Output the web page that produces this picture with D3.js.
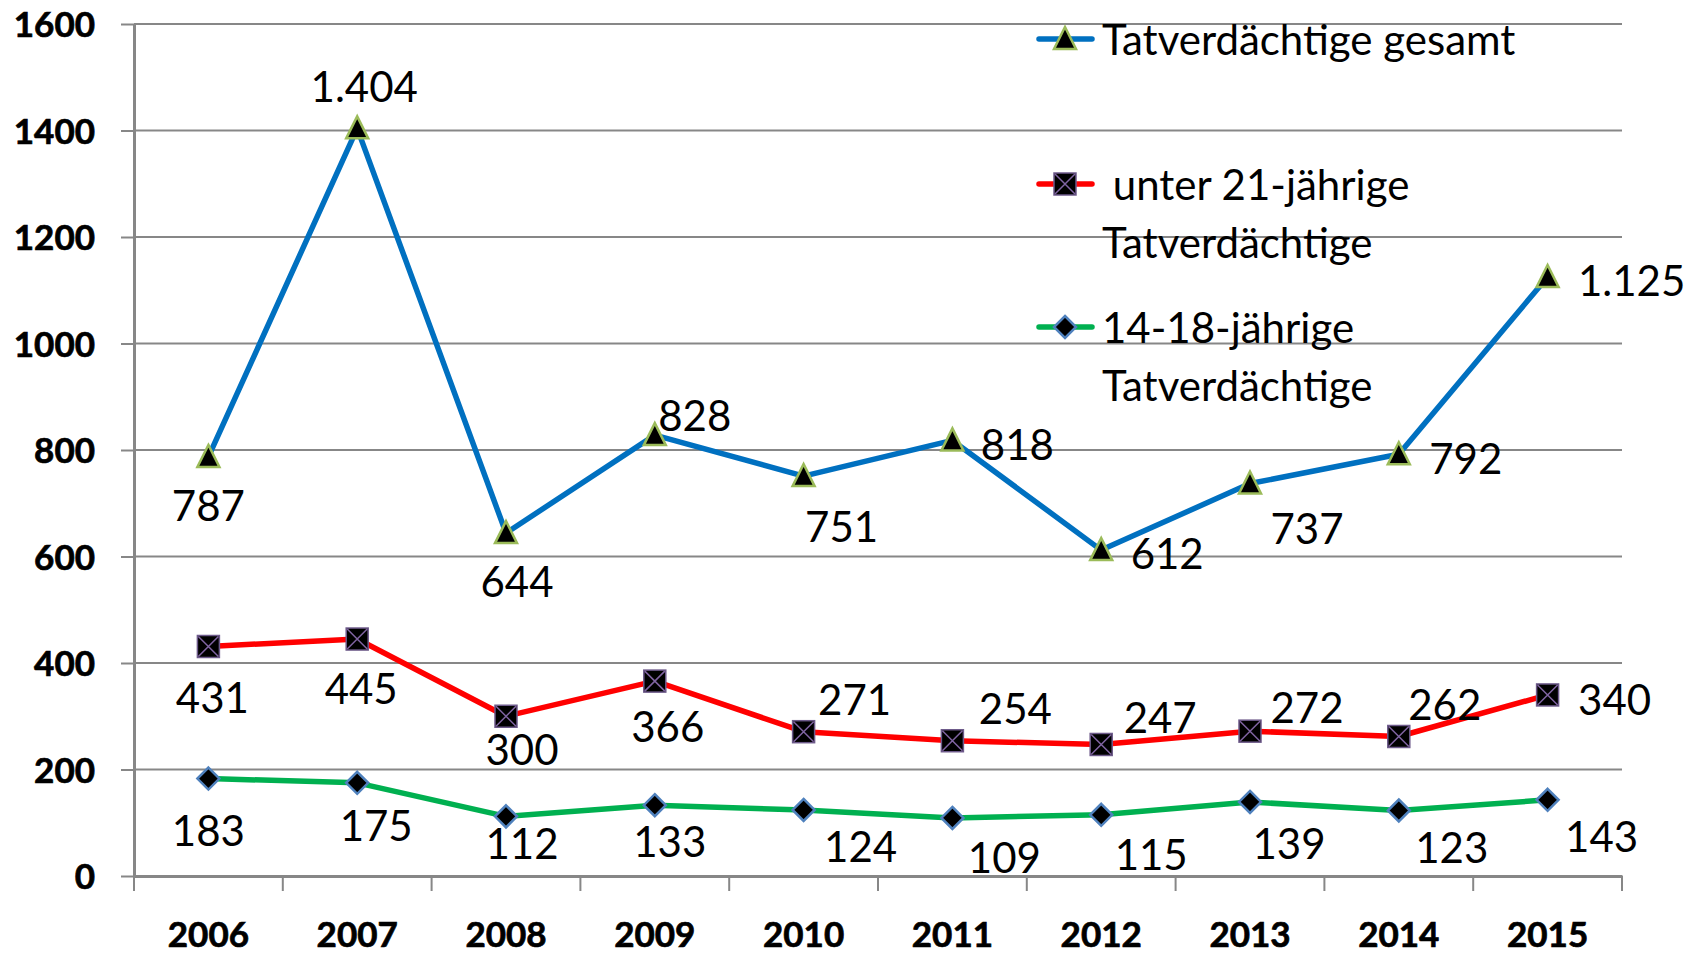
<!DOCTYPE html>
<html>
<head>
<meta charset="utf-8">
<script src="https://cdn.jsdelivr.net/npm/d3@7"></script>
<style>
  html, body { margin: 0; padding: 0; background: #fff; }
  svg { display: block; }
  text { font-family: Lato, "Open Sans", sans-serif; fill: #000; }
</style>
</head>
<body>
<div id="chart"></div>
<script>
// data
const years = [2006, 2007, 2008, 2009, 2010, 2011, 2012, 2013, 2014, 2015]
const totalValues = [787, 1404, 644, 828, 751, 818, 612, 737, 792, 1125]
const under21Values = [431, 445, 300, 366, 271, 254, 247, 272, 262, 340]
const teenValues = [183, 175, 112, 133, 124, 109, 115, 139, 123, 143]
const yTicks = [0, 200, 400, 600, 800, 1000, 1200, 1400, 1600]
const legendLines = [
  ["Tatverdächtige gesamt"],
  [" unter 21-jährige", "Tatverdächtige"],
  ["14-18-jährige", "Tatverdächtige"]
]

// label offsets (px from the marker), picked by eye
const totalLabelPos = [[0,49],[7,-41],[11,49],[40,-19],[38,51],[65,4],[66,4],[57,45],[67,5],[84,4]]
const under21LabelPos = [[4,51],[4,50],[16,34],[13,46],[51,-32],[63,-32],[59,-27],[57,-23],[46,-32],[67,5]]
const teenLabelPos = [[0,52],[19,43],[16,28],[15,37],[57,37],[52,40],[50,40],[39,42],[53,37],[54,37]]

const W = 1697, H = 954
const plotLeft = 134, plotRight = 1622, plotTop = 24, plotBottom = 876
const gridColor = "#878787"

const de = d3.formatLocale({decimal: ",", thousands: ".", grouping: [3], currency: ["", " €"]})
const fmt = de.format(",")

const svg = d3.select("#chart").append("svg")
  .attr("width", W)
  .attr("height", H)

svg.append("rect").attr("width", W).attr("height", H).attr("fill", "#fff")

const x = d3.scaleBand().domain(years).range([plotLeft, plotRight])
const y = d3.scaleLinear().domain([0, 1600]).range([plotBottom, plotTop])
const cx = d => x(d) + x.bandwidth() / 2

// grid
svg.append("g")
  .selectAll("line")
  .data(yTicks.filter(t => t > 0))
  .enter().append("line")
  .attr("x1", plotLeft).attr("x2", plotRight)
  .attr("y1", d => y(d)).attr("y2", d => y(d))
  .attr("stroke", gridColor)
  .attr("stroke-width", 2)

// y axis
const yAxis = svg.append("g")
  .attr("transform", `translate(${plotLeft},0)`)
  .call(d3.axisLeft(y).tickValues(yTicks).tickSizeInner(13).tickSizeOuter(0).tickPadding(26).tickFormat(d3.format("d")))
yAxis.select(".domain").attr("stroke", gridColor).attr("stroke-width", 3)
yAxis.selectAll(".tick line").attr("stroke", gridColor).attr("stroke-width", 2)
yAxis.selectAll("text")
  .attr("font-family", "Lato, sans-serif")
  .attr("font-weight", "bold")
  .attr("font-size", 35)
  .attr("fill", "#000")
  .attr("stroke", "#000")
  .attr("stroke-width", 0.7)
  .attr("dy", "0.36em")

// x axis
const xAxis = svg.append("g")
  .attr("transform", `translate(0,${plotBottom})`)
  .call(d3.axisBottom(x).tickSize(0).tickPadding(46))
xAxis.select(".domain").attr("stroke", gridColor).attr("stroke-width", 3)
xAxis.selectAll("text")
  .attr("font-family", "Lato, sans-serif")
  .attr("font-weight", "bold")
  .attr("font-size", 35)
  .attr("fill", "#000")
  .attr("stroke", "#000")
  .attr("stroke-width", 0.7)

const bounds = d3.range(years.length + 1).map(i => plotLeft + i * x.step())
svg.append("g")
  .selectAll("line")
  .data(bounds)
  .enter().append("line")
  .attr("x1", d => d).attr("x2", d => d)
  .attr("y1", plotBottom).attr("y2", plotBottom + 15)
  .attr("stroke", gridColor)
  .attr("stroke-width", 2)

// markers
const triangle = "M0,-12L11,10L-11,10Z"
const diamond = "M0,-11L11,0L0,11L-11,0Z"

function drawMarker(g, type) {
  if (type === "tri") {
    g.append("path").attr("d", triangle)
      .attr("fill", "#000").attr("stroke", "#9BBB59").attr("stroke-width", 2.5)
  } else if (type === "sq") {
    g.append("rect").attr("x", -11).attr("y", -11).attr("width", 22).attr("height", 22)
      .attr("fill", "#000").attr("stroke", "#6d5a8a").attr("stroke-width", 1.5)
    g.append("path").attr("d", "M-10,-10L10,10M10,-10L-10,10")
      .attr("stroke", "#8064A2").attr("stroke-width", 1.5)
  } else {
    g.append("path").attr("d", diamond)
      .attr("fill", "#000").attr("stroke", "#4F81BD").attr("stroke-width", 2.5)
  }
}

const series = [
  {values: totalValues, color: "#0070C0", marker: "tri", labelPos: totalLabelPos},
  {values: under21Values, color: "#FF0000", marker: "sq", labelPos: under21LabelPos},
  {values: teenValues, color: "#00B050", marker: "dia", labelPos: teenLabelPos}
]

const line = d3.line().x((d, i) => cx(years[i])).y(d => y(d))

series.forEach(s => {
  svg.append("path")
    .datum(s.values)
    .attr("d", line)
    .attr("fill", "none")
    .attr("stroke", s.color)
    .attr("stroke-width", 5.5)
    .attr("stroke-linejoin", "round")
})

series.forEach(s => {
  s.values.forEach((v, i) => {
    const g = svg.append("g").attr("transform", `translate(${cx(years[i])},${y(v)})`)
    drawMarker(g, s.marker)
  })
})

// data labels
series.forEach(s => {
  svg.append("g")
    .selectAll("text")
    .data(s.values)
    .enter().append("text")
    .attr("x", (d, i) => cx(years[i]) + s.labelPos[i][0])
    .attr("y", (d, i) => y(d) + s.labelPos[i][1])
    .attr("dy", "0.36em")
    .attr("text-anchor", "middle")
    .attr("font-size", 42)
    .text(d => fmt(d))
})

// legend
const legendY = [39, 184, 327]
const legend = svg.append("g")
series.forEach((s, i) => {
  const g = legend.append("g").attr("transform", `translate(0,${legendY[i]})`)
  g.append("line")
    .attr("x1", 1039).attr("x2", 1092)
    .attr("stroke", s.color).attr("stroke-width", 5.5)
    .attr("stroke-linecap", "round")
  const m = g.append("g").attr("transform", "translate(1065,0)")
  drawMarker(m, s.marker)
  legendLines[i].forEach((t, j) => {
    g.append("text")
      .attr("x", 1102)
      .attr("y", 16 + j * 58)
      .attr("font-size", 42)
      .style("white-space", "pre")
      .text(t)
  })
})
</script>
</body>
</html>
